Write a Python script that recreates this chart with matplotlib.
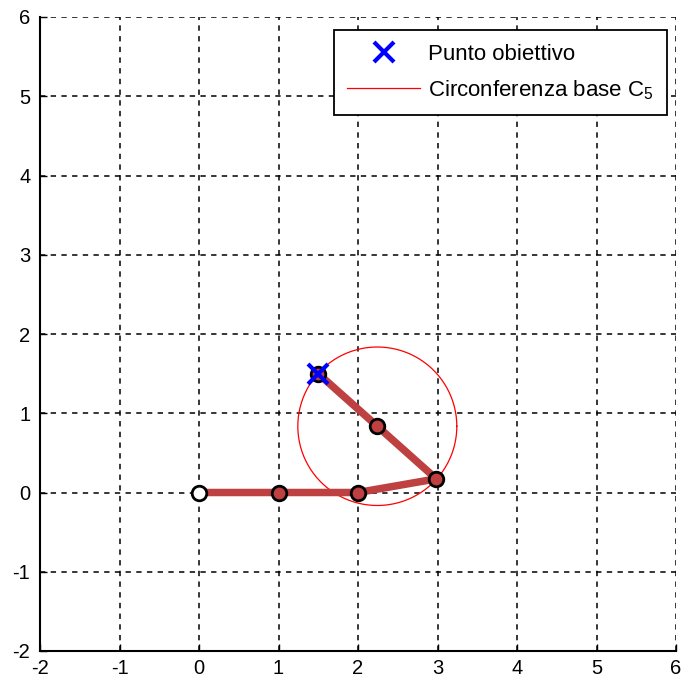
import matplotlib
matplotlib.use("Agg")
import matplotlib.pyplot as plt
import numpy as np

plt.rcParams['font.family'] = ['Liberation Sans', 'DejaVu Sans']
plt.rcParams['mathtext.fontset'] = 'custom'
plt.rcParams['mathtext.rm'] = 'Liberation Sans'
plt.rcParams['mathtext.it'] = 'Liberation Sans'
plt.rcParams['axes.unicode_minus'] = False

# giunti del manipolatore (base -> end effector)
joint_x = [0, 1, 2, 2.985, 2.243, 1.5]
joint_y = [0, 0, 0, 0.172, 0.836, 1.5]

# punto obiettivo
target_x = 1.5
target_y = 1.5

# circonferenza base C5
c5_center = (2.243, 0.836)
c5_radius = 1.0

ticks = [-2, -1, 0, 1, 2, 3, 4, 5, 6]

arm_color = '#BF4040'

fig = plt.figure(figsize=(6.84, 6.87), dpi=100)
ax = fig.add_axes([40 / 684, 36 / 687, 636 / 684, 634 / 687])

# griglia tratteggiata
for t in ticks:
    ax.plot([t, t], [-2, 6], color='black', lw=1.1, ls=(0, (3.5, 3.5)), zorder=1)
    ax.plot([-2, 6], [t, t], color='black', lw=1.1, ls=(0, (3.5, 3.5)), zorder=1)

# braccio
ax.plot(joint_x, joint_y, color=arm_color, lw=5.4, solid_capstyle='butt', zorder=3)
ax.plot(joint_x[1:], joint_y[1:], ls='none', marker='o', ms=10.5,
        mfc=arm_color, mec='black', mew=2, zorder=4)
ax.plot(joint_x[0], joint_y[0], ls='none', marker='o', ms=10.5,
        mfc='white', mec='black', mew=2, zorder=4)

# circonferenza
th = np.linspace(0, 2 * np.pi, 300)
circ, = ax.plot(c5_center[0] + c5_radius * np.cos(th),
                c5_center[1] + c5_radius * np.sin(th),
                color='red', lw=0.9, zorder=2, label='Circonferenza base C$_5$')

tgt, = ax.plot(target_x, target_y, ls='none', marker='x', ms=14, mew=3,
               color='blue', zorder=5, label='Punto obiettivo')

ax.set_xlim(-2, 6)
ax.set_ylim(-2, 6)
ax.set_xticks(ticks)
ax.set_yticks(ticks)
ax.tick_params(direction='in', length=5, width=1, labelsize=14.5,
               colors='black')
ax.tick_params(axis='x', pad=6)
ax.tick_params(axis='y', pad=7)
ax.spines['top'].set_visible(False)
ax.spines['right'].set_visible(False)
ax.spines['left'].set_linewidth(1.5)
ax.spines['bottom'].set_linewidth(1.5)

leg = ax.legend(handles=[tgt, circ], loc='upper right', fontsize=16,
                bbox_to_anchor=(0.986, 0.979), fancybox=False, framealpha=1,
                edgecolor='black', borderpad=0.6, handlelength=3.3,
                handletextpad=0.36, labelspacing=0.6, borderaxespad=0)
leg.get_frame().set_linewidth(1.3)

fig.savefig('out.png', dpi=100)
